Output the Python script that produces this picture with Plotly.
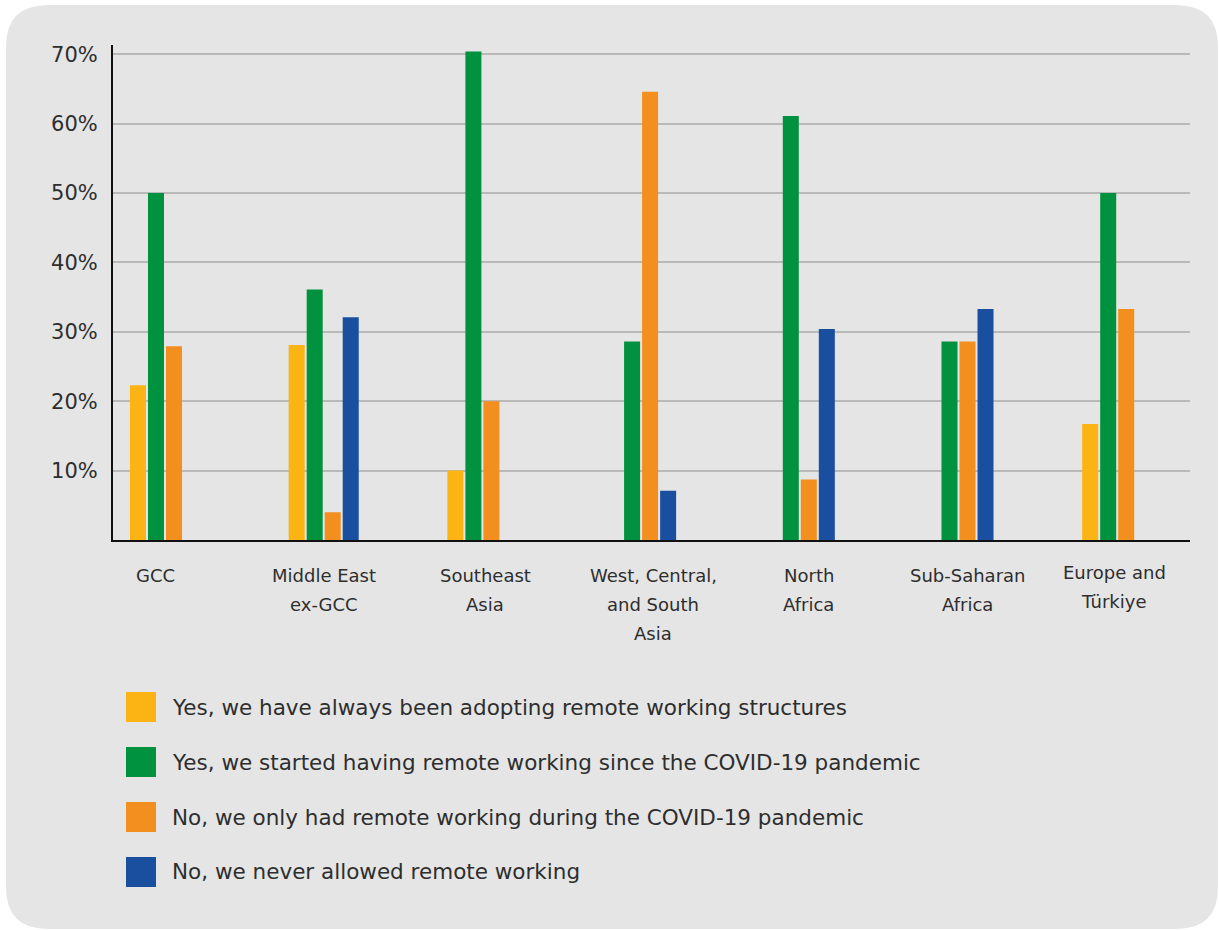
import plotly.graph_objects as go

# ---------------- data ----------------
categories = ["GCC", "Middle East ex-GCC", "Southeast Asia", "West, Central, and South Asia",
              "North Africa", "Sub-Saharan Africa", "Europe and Türkiye"]
category_lines = [["GCC"], ["Middle East", "ex-GCC"], ["Southeast", "Asia"],
                  ["West, Central,", "and South", "Asia"], ["North", "Africa"],
                  ["Sub-Saharan", "Africa"], ["Europe and", "Türkiye"]]

series_names = [
    "Yes, we have always been adopting remote working structures",
    "Yes, we started having remote working since the COVID-19 pandemic",
    "No, we only had remote working during the COVID-19 pandemic",
    "No, we never allowed remote working",
]
always_remote = [22.3, 28.1, 10.0, None, None, None, 16.7]
since_covid = [50.0, 36.1, 70.4, 28.6, 61.1, 28.6, 50.0]
only_during_covid = [27.9, 4.0, 20.0, 64.6, 8.7, 28.6, 33.3]
never_remote = [None, 32.1, None, 7.1, 30.4, 33.3, None]
series_values = [always_remote, since_covid, only_during_covid, never_remote]
series_colors = ["#FCB414", "#00923F", "#F28F1E", "#1A4F9F"]

y_ticks = [10, 20, 30, 40, 50, 60, 70]

# label nudges (style only, pixels)
label_xshift = [-10, 0, 3, 12, 9, 9, -3]
label_yshift = [0, 0, 0, 0, 0, 0, -3]

# ---------------- layout geometry (pixels) ----------------
W, H = 1219, 930
L, R, T, B = 113, 1190, 45, 540


def px(x):
    return (x - L) / (R - L)


def py(y):
    return (B - y) / (B - T)


fig = go.Figure()
for name, vals, col in zip(series_names, series_values, series_colors):
    fig.add_trace(go.Bar(x=list(range(len(categories))), y=vals, name=name,
                         marker=dict(color=col, line=dict(width=0)),
                         showlegend=False, hovertext=categories))

# rounded grey background panel
x0, y0, x1, y1, r = 6, 5, 1218, 929, 42
path = (f"M {px(x0 + r)},{py(y0)} L {px(x1 - r)},{py(y0)} "
        f"Q {px(x1)},{py(y0)} {px(x1)},{py(y0 + r)} "
        f"L {px(x1)},{py(y1 - r)} Q {px(x1)},{py(y1)} {px(x1 - r)},{py(y1)} "
        f"L {px(x0 + r)},{py(y1)} Q {px(x0)},{py(y1)} {px(x0)},{py(y1 - r)} "
        f"L {px(x0)},{py(y0 + r)} Q {px(x0)},{py(y0)} {px(x0 + r)},{py(y0)} Z")
shapes = [dict(type="path", path=path, xref="paper", yref="paper",
               fillcolor="#E5E5E5", line=dict(width=0), layer="below")]

annotations = []
text_color = "#2E2E2E"
font_family = "DejaVu Sans, Verdana, sans-serif"

# category labels (one annotation per line for wider line spacing)
for i, lines in enumerate(category_lines):
    for j, line in enumerate(lines):
        annotations.append(dict(x=i, xref="x", y=0, yref="paper", text=line,
                                showarrow=False, xanchor="center", yanchor="middle",
                                xshift=label_xshift[i],
                                yshift=-35 - 29 * j - label_yshift[i],
                                font=dict(size=18, color=text_color, family=font_family)))

# custom legend
legend_centers = [707, 762, 817, 872]
for name, col, cy in zip(series_names, series_colors, legend_centers):
    shapes.append(dict(type="rect", xref="paper", yref="paper",
                       x0=px(126), x1=px(156), y0=py(cy - 15), y1=py(cy + 15),
                       fillcolor=col, line=dict(width=0), layer="above"))
    annotations.append(dict(x=px(170), xref="paper", y=py(cy), yref="paper", text=name,
                            showarrow=False, xanchor="left", yanchor="middle",
                            font=dict(size=21.5, color=text_color, family=font_family)))

unit = 158.7
fig.update_layout(
    width=W, height=H,
    margin=dict(l=L, r=W - R, t=T, b=H - B, pad=0),
    paper_bgcolor="white",
    plot_bgcolor="rgba(0,0,0,0)",
    barmode="group",
    bargap=0.546,
    bargroupgap=0.111,
    showlegend=False,
    shapes=shapes,
    annotations=annotations,
    font=dict(family=font_family, color=text_color),
    xaxis=dict(range=[(L - 165) / unit, (R - 165) / unit], showgrid=False,
               showticklabels=False, ticks="", zeroline=False,
               showline=True, linecolor="#111111", linewidth=2),
    yaxis=dict(range=[0, (B - T) / 6.94], tickvals=y_ticks,
               ticktext=[f"{v}%" for v in y_ticks],
               showgrid=True, gridcolor="#B9B9B9", gridwidth=2,
               zeroline=False, showline=True, linecolor="#111111", linewidth=2,
               ticks="", ticklabelstandoff=9,
               tickfont=dict(size=21, color=text_color, family=font_family)),
)

fig.write_html("out.html", post_script="document.body.style.margin='0';",
               config={"displayModeBar": False})
